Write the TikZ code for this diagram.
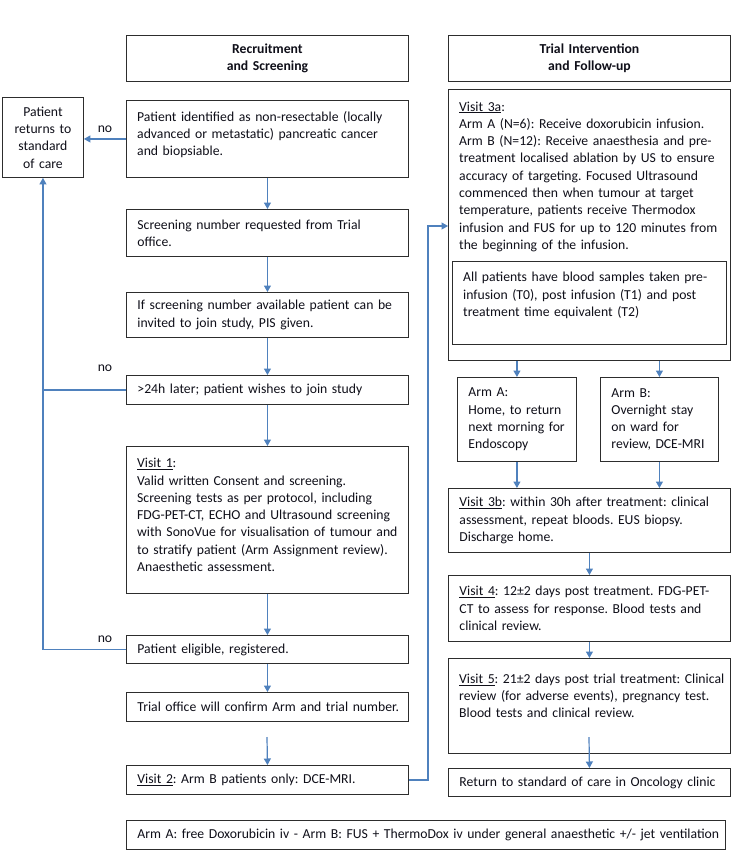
\documentclass[tikz,border=0pt]{standalone}
\usepackage{fontspec}
\setmainfont{Carlito}
\usetikzlibrary{arrows.meta,calc}
\definecolor{arrowblue}{RGB}{79,129,189}
\definecolor{boxcol}{RGB}{45,45,45}
\definecolor{textcol}{RGB}{15,15,25}
\newcommand{\bodyfont}{\fontsize{13.7pt}{17.3pt}\selectfont}
\newcommand{\jl}[1]{\makebox[\linewidth][s]{#1}}
\frenchspacing
\begin{document}
\begin{tikzpicture}[x=1pt,y=-1pt,
  box/.style={draw=boxcol, line width=0.9pt, anchor=north west, inner ysep=0pt, inner xsep=11pt, align=left, font=\bodyfont, text=textcol},
  title/.style={box, align=center, font=\bodyfont\bfseries},
  txt/.style={anchor=base west, inner sep=0pt, align=left, font=\bodyfont, text=textcol},
  arr/.style={draw=arrowblue, line width=1.2pt, -{Triangle[length=6.5pt,width=7pt]}},
  ln/.style={draw=arrowblue, line width=1.2pt},
  lbl/.style={font=\bodyfont, text=textcol, inner sep=0pt}]
\fill[white] (0,0) rectangle (731,851);
\useasboundingbox (0,0) rectangle (731,851);

% ---------- left column ----------
\node[title, text width=260pt, minimum height=46pt] (t1) at (126,35) {Recruitment\\and Screening};
\node[box, align=center, text width=59pt, minimum height=80pt] (ret) at (2,97) {Patient\\returns to\\standard\\of care};

\node[box, text width=260pt, minimum height=77pt] (b1) at (126,100) {};
\node[txt, text width=260pt] (b1t) at (137,121) {\jl{Patient identified as non-resectable (locally}\\
  \jl{advanced or metastatic) pancreatic cancer}\\
  and biopsiable.};

\node[box, text width=260pt, minimum height=47pt] (b2) at (126,209) {\mbox{Screening number requested from Trial}\\office.};
\node[box, text width=260pt, minimum height=45pt] (b3) at (126,292) {\mbox{If screening number available patient can be}\\\mbox{invited to join study, PIS given.}};
\node[box, text width=260pt, minimum height=29pt] (b4) at (126,375) {\mbox{>24h later; patient wishes to join study}};

\node[box, text width=260pt, minimum height=147pt] (b5) at (126,446) {};
\node[txt, text width=260pt] (b5t) at (137,467.7) {\underline{Visit 1}:\\
  \mbox{Valid written Consent and screening.}\\
  \jl{Screening tests as per protocol, including}\\
  \jl{FDG-PET-CT, ECHO and Ultrasound screening}\\
  \jl{with SonoVue for visualisation of tumour and}\\
  \mbox{to stratify patient (Arm Assignment review).}\\
  Anaesthetic assessment.};

\node[box, text width=260pt, minimum height=28pt] (b6) at (126,635) {\mbox{Patient eligible, registered.}};
\node[box, text width=260pt, minimum height=29pt] (b7) at (126,692) {\mbox{Trial office will confirm Arm and trial number.}};
\node[box, text width=260pt, minimum height=29pt] (b8) at (126,765) {\mbox{\underline{Visit 2}: Arm B patients only: DCE-MRI.}};

\node[box, text width=577pt, minimum height=29pt] (bot) at (126,820) {\mbox{Arm A: free Doxorubicin iv - Arm B: FUS + ThermoDox iv under general anaesthetic +/- jet ventilation}};

% ---------- right column ----------
\node[title, text width=260pt, minimum height=46pt] (t2) at (448,35) {Trial Intervention\\and Follow-up};

\node[box, text width=260pt, minimum height=271pt] (v3a) at (448,89) {};
\node[txt, text width=259pt] (v3at) at (459,111) {\underline{Visit 3a}:\\
  \mbox{Arm A (N=6): Receive doxorubicin infusion.}\\
  \jl{Arm B (N=12): Receive anaesthesia and pre-}\\
  \jl{treatment localised ablation by US to ensure}\\
  \jl{accuracy of targeting. Focused Ultrasound}\\
  \jl{commenced then when tumour at target}\\
  \jl{temperature, patients receive Thermodox}\\
  \jl{infusion and FUS for up to 120 minutes from}\\
  \mbox{the beginning of the infusion.}};

\node[box, text width=252pt, minimum height=83pt] (inner) at (452,261) {};
\node[txt, text width=251pt] (innert) at (463,281.7) {\jl{All patients have blood samples taken pre-}\\
  \jl{infusion (T0), post infusion (T1) and post}\\
  \mbox{treatment time equivalent (T2)}};

\node[box, text width=97pt, minimum height=84pt] (armA) at (457,377) {Arm A:\\\mbox{Home, to return}\\\mbox{next morning for}\\Endoscopy};
\node[box, text width=96pt, minimum height=84pt] (armB) at (600,377) {Arm B:\\\jl{Overnight stay}\\\jl{on ward for}\\\mbox{review, DCE-MRI}};

\node[box, text width=260pt, minimum height=64pt] (v3b) at (448,488) {\jl{\underline{Visit 3b}: within 30h after treatment: clinical}\\
  \jl{assessment, repeat bloods. EUS biopsy.}\\
  Discharge home.};
\node[box, text width=260pt, minimum height=66pt] (v4) at (448,575) {\jl{\underline{Visit 4}: 12±2 days post treatment. FDG-PET-}\\
  \jl{CT to assess for response. Blood tests and}\\
  clinical review.};

\node[box, text width=260pt, minimum height=95pt] (v5) at (448,658) {};
\node[txt, text width=259pt] (v5t) at (459,683.3) {\jl{\underline{Visit 5}: 21±2 days post trial treatment: Clinical}\\
  \jl{review (for adverse events), pregnancy test.}\\
  \mbox{Blood tests and clinical review.}};

\node[box, text width=260pt, minimum height=28pt] (ret2) at (448,768) {\mbox{Return to standard of care in Oncology clinic}};

% ---------- connectors ----------
\draw[arr] (b1.west) -- (b1.west -| ret.east);
\node[lbl] (no1) at (105,129) {no};
\draw[arr] (b1.south) -- (b2.north);
\draw[arr] (b2.south) -- (b3.north);
\draw[arr] (b3.south) -- (b4.north);
\draw[arr] (b4.south) -- (b5.north);
\draw[arr] (b5.south) -- (b6.north);
\draw[arr] (b6.south) -- (b7.north);
\coordinate (s78) at (267,737);
\draw[arr] (s78) -- (b8.north);
\draw[ln] (b4.west) -- (b4.west -| ret.south);
\node[lbl] (no2) at (105,368) {no};
\draw[arr] (b6.west) -| (ret.south);
\node[lbl] (no3) at (105,639) {no};

\coordinate (j) at (428,226);
\draw[arr] (b8.east) -| (j) -- (j -| v3a.west);

\draw[arr] (armA.north |- v3a.south) -- (armA.north);
\draw[arr] (armB.north |- v3a.south) -- (armB.north);
\draw[arr] (armA.south) -- (armA.south |- v3b.north);
\draw[arr] (armB.south) -- (armB.south |- v3b.north);
\draw[arr] (v3b.south) -- (v4.north);
\draw[arr] (v4.south) -- (v5.north);
\coordinate (s5) at (589,737);
\draw[arr] (s5) -- (ret2.north);
\end{tikzpicture}
\end{document}
